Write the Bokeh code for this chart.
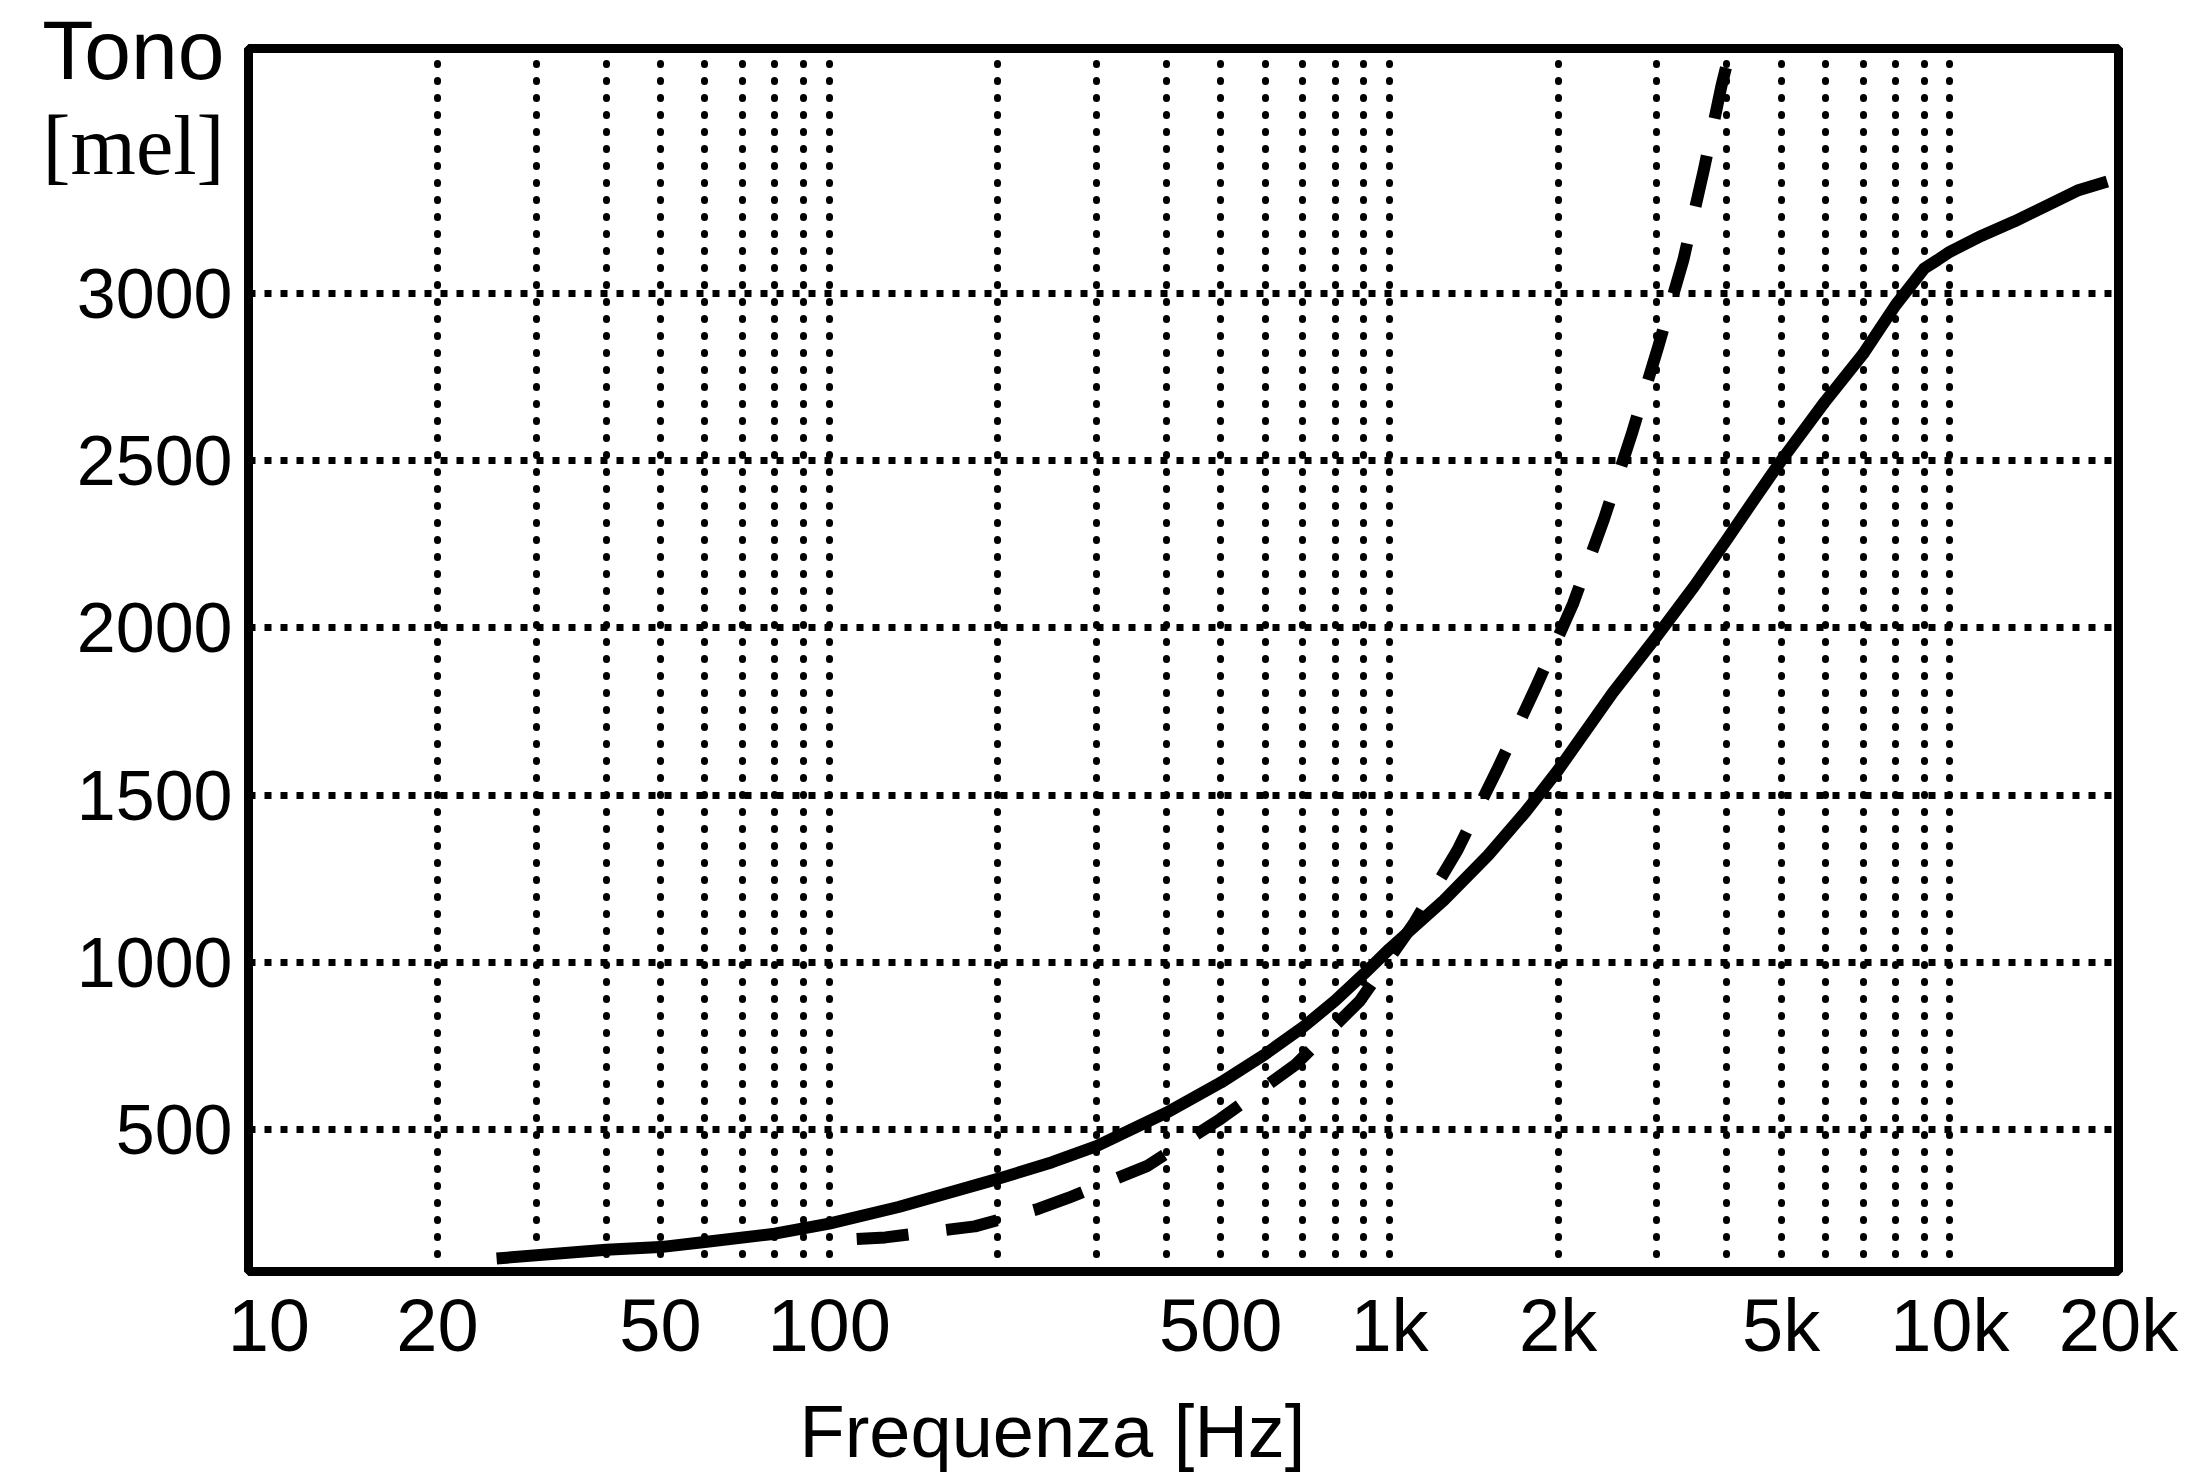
from bokeh.plotting import figure
from bokeh.models import (Range1d, FixedTicker, CustomJSTickFormatter, LinearAxis,
                          Title)
from bokeh.embed import file_html
from bokeh.resources import INLINE

# ---- data ----
solid_freq = [25.5, 40, 50, 60, 80, 100, 133, 200, 250, 300, 400, 500, 600, 700,
              800, 900, 1000, 1250, 1500, 1750, 2000, 2500, 3000, 3500, 4000, 4500,
              5000, 6000, 7000, 8000, 9000, 9500, 10000, 11400, 13050, 16900, 19100]
solid_mel = [114, 140, 148, 163, 188, 218, 268, 352, 402, 450, 550, 640, 725, 805,
             885, 965, 1040, 1185, 1320, 1450, 1575, 1805, 1975, 2125, 2264, 2390,
             2500, 2679, 2819, 2965, 3075, 3100, 3125, 3173, 3216, 3308, 3335]

dashed_freq = [112, 126, 182, 236, 267, 369, 500, 678, 886, 1105, 1323, 1559, 1824,
               2126, 2414, 2711, 3018, 3347, 3637, 3911, 3995]
dashed_mel = [172, 177, 210, 262, 295, 390, 532, 692, 885, 1116, 1336, 1578, 1822,
              2072, 2325, 2584, 2842, 3102, 3368, 3620, 3683]

x_tick_values = [10, 20, 50, 100, 500, 1000, 2000, 5000, 10000, 20000]
y_tick_values = [500, 1000, 1500, 2000, 2500, 3000]
x_grid_values = [20, 30, 40, 50, 60, 70, 80, 90, 100,
                 200, 300, 400, 500, 600, 700, 800, 900, 1000,
                 2000, 3000, 4000, 5000, 6000, 7000, 8000, 9000, 10000]

x_label = "Frequenza [Hz]"
y_label_top = "Tono"
y_label_unit = "[mel]"

# ---- figure ----
p = figure(x_axis_type="log", output_backend="svg", toolbar_location=None,
           frame_width=1870, frame_height=1223,
           min_border_left=248, min_border_right=80,
           min_border_top=48, min_border_bottom=205,
           x_range=Range1d(9.2, 20000), y_range=Range1d(75, 3733))
p.background_fill_color = "white"
p.border_fill_color = "white"
p.outline_line_color = "black"
p.outline_line_width = 9

# grids
p.xgrid.ticker = FixedTicker(ticks=x_grid_values)
p.xgrid.grid_line_color = "black"
p.xgrid.grid_line_width = 7
p.xgrid.grid_line_dash = "1 16"
p.xgrid.grid_line_cap = "round"
p.ygrid.ticker = FixedTicker(ticks=y_tick_values)
p.ygrid.grid_line_color = "black"
p.ygrid.grid_line_width = 7
p.ygrid.grid_line_dash = "7 9"
p.ygrid.grid_line_cap = "butt"


def plain(ax):
    ax.axis_line_color = None
    ax.major_tick_line_color = None
    ax.minor_tick_line_color = None
    ax.major_tick_out = 0
    ax.major_tick_in = 0
    ax.minor_tick_out = 0
    ax.minor_tick_in = 0
    ax.major_label_text_color = "black"


plain(p.xaxis[0])
plain(p.yaxis[0])

p.xaxis.ticker = FixedTicker(ticks=x_tick_values)
p.xaxis.formatter = CustomJSTickFormatter(code="""
    const t = Math.round(tick);
    return t >= 1000 ? (t / 1000) + 'k' : String(t);
""")
p.xaxis.major_label_text_font = "Liberation Sans"
p.xaxis.major_label_text_font_size = "74px"
p.xaxis.major_label_standoff = 12

p.yaxis.ticker = FixedTicker(ticks=y_tick_values)
p.yaxis.major_label_text_font = "Liberation Sans"
p.yaxis.major_label_text_font_size = "70px"
p.yaxis.major_label_standoff = 16

# y-axis caption ("Tono" / "[mel]") as label-only axes stacked on the left
ax_tono = LinearAxis(ticker=FixedTicker(ticks=[3728]),
                     formatter=CustomJSTickFormatter(code="return %r;" % y_label_top))
plain(ax_tono)
ax_tono.major_label_text_font = "Liberation Sans"
ax_tono.major_label_text_font_size = "84px"
ax_tono.major_label_standoff = -151
p.add_layout(ax_tono, "left")

ax_mel = LinearAxis(ticker=FixedTicker(ticks=[3444]),
                    formatter=CustomJSTickFormatter(code="return %r;" % y_label_unit))
plain(ax_mel)
ax_mel.major_label_text_font = "Liberation Serif"
ax_mel.major_label_text_font_size = "84px"
ax_mel.major_label_standoff = -185
p.add_layout(ax_mel, "left")

# x-axis caption
p.add_layout(Title(text=x_label, align="left", offset=551, standoff=36,
                   text_font="Liberation Sans",
                   text_font_size="74px", text_font_style="normal",
                   text_color="black"), "below")

# curves
p.line(solid_freq, solid_mel, line_color="black", line_width=12, line_cap="butt",
       line_join="round")
p.line(dashed_freq, dashed_mel, line_color="black", line_width=12, line_cap="butt",
       line_join="round", line_dash="52 38")

open("out.html", "w").write(file_html(p, INLINE))
